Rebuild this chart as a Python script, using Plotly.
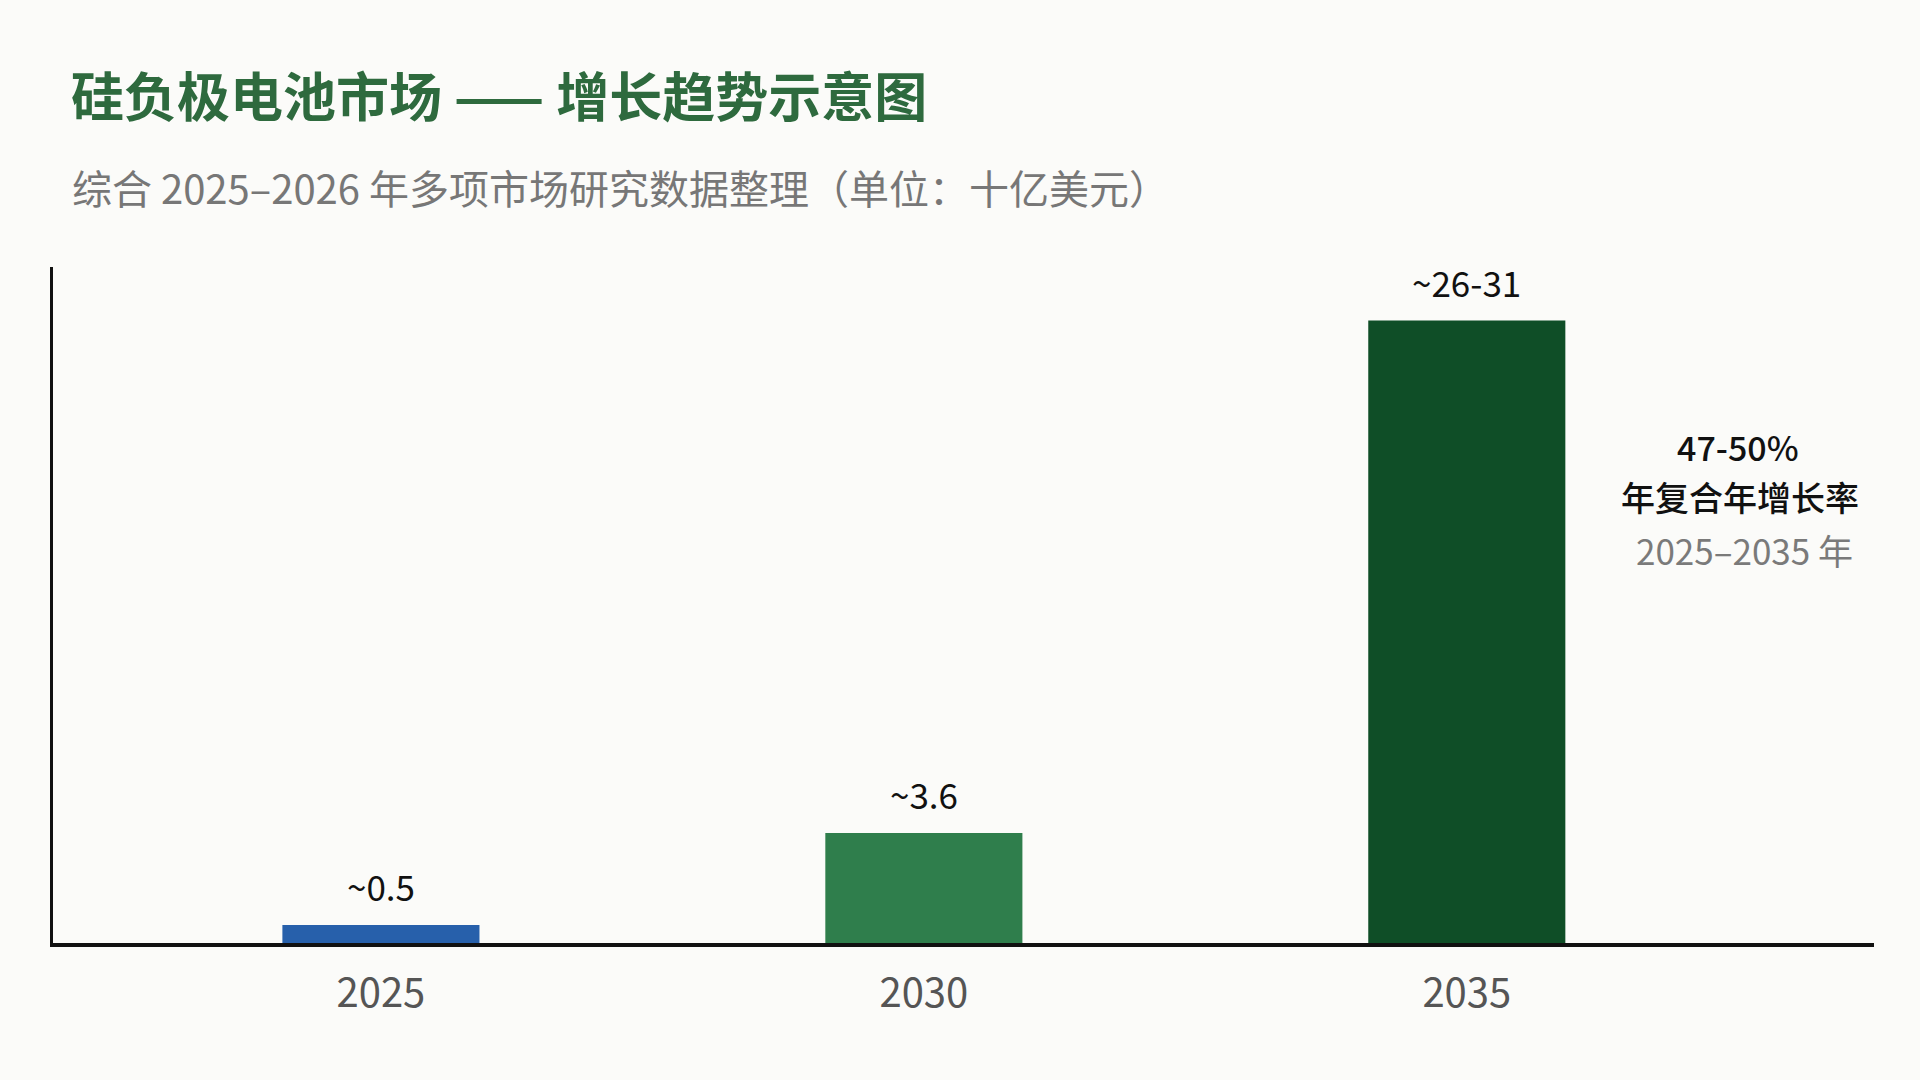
import plotly.graph_objects as go

# chart values (schematic bar heights as drawn, labels as printed)
years = ["2025", "2030", "2035"]
bar_heights = [0.59, 3.6, 20.35]
value_labels = ["~0.5", "~3.6", "~26-31"]
bar_colors = ["#2760ab", "#2f7e4c", "#0f4e27"]

title_text = "硅负极电池市场 —— 增长趋势示意图"
subtitle_text = "综合 2025–2026 年多项市场研究数据整理（单位：十亿美元）"
cagr_lines = ["47-50%", "年复合年增长率", "2025–2035 年"]

FONT = "Noto Sans CJK SC"
W, H = 1920, 1080
L, R, T, B = 53, 46, 267, 137  # plot area in pixels


def px_x(x):
    return (x - L) / (W - L - R)


def px_y(y):
    return (H - B - y) / (H - T - B)


fig = go.Figure()
fig.add_trace(go.Bar(
    x=list(range(len(years))), y=bar_heights,
    width=0.363, marker=dict(color=bar_colors, line=dict(width=0)),
    hoverinfo="skip",
))

# value labels above the bars
for i, (h, lab) in enumerate(zip(bar_heights, value_labels)):
    fig.add_annotation(x=i, y=h, text=lab, showarrow=False, yanchor="bottom",
                       yshift=12, font=dict(family=FONT, size=35, color="#111111"))

# CAGR note at right
note = dict(xref="paper", yref="paper", showarrow=False, xanchor="center", yanchor="middle")
fig.add_annotation(x=px_x(1738), y=px_y(446), text=cagr_lines[0],
                   font=dict(family=FONT, size=34, color="#111111", weight=500), **note)
fig.add_annotation(x=px_x(1740), y=px_y(496), text=cagr_lines[1],
                   font=dict(family=FONT, size=34, color="#111111", weight=500), **note)
fig.add_annotation(x=px_x(1744), y=px_y(549), text=cagr_lines[2],
                   font=dict(family=FONT, size=35, color="#7a7a7a"), **note)

# subtitle
fig.add_annotation(x=px_x(70), y=px_y(187), xref="paper", yref="paper", text=subtitle_text,
                   showarrow=False, xanchor="left", yanchor="middle",
                   font=dict(family=FONT, size=40, color="#777777"))

fig.update_layout(
    width=W, height=H,
    margin=dict(l=L, r=R, t=T, b=B),
    paper_bgcolor="#fbfbf9", plot_bgcolor="#fbfbf9",
    showlegend=False,
    title=dict(text=title_text, x=71 / W, xref="container", xanchor="left",
               y=1 - 98 / H, yanchor="middle",
               font=dict(family=FONT, size=53, color="#2e6a3e", weight="bold")),
    font=dict(family=FONT),
)
fig.update_xaxes(
    range=[-0.604, 2.75], tickvals=list(range(len(years))), ticktext=years,
    showline=True, linecolor="#111111", linewidth=4, showgrid=False, zeroline=False,
    ticks="outside", ticklen=12, tickcolor="rgba(0,0,0,0)",
    tickfont=dict(family=FONT, size=40, color="#555555"),
)
fig.update_yaxes(
    range=[0, 22.1], showline=True, linecolor="#111111", linewidth=3,
    showgrid=False, zeroline=False, showticklabels=False, ticks="",
)

fig.write_html("out.html", config={"displayModeBar": False},
               post_script="document.body.style.margin='0';")
